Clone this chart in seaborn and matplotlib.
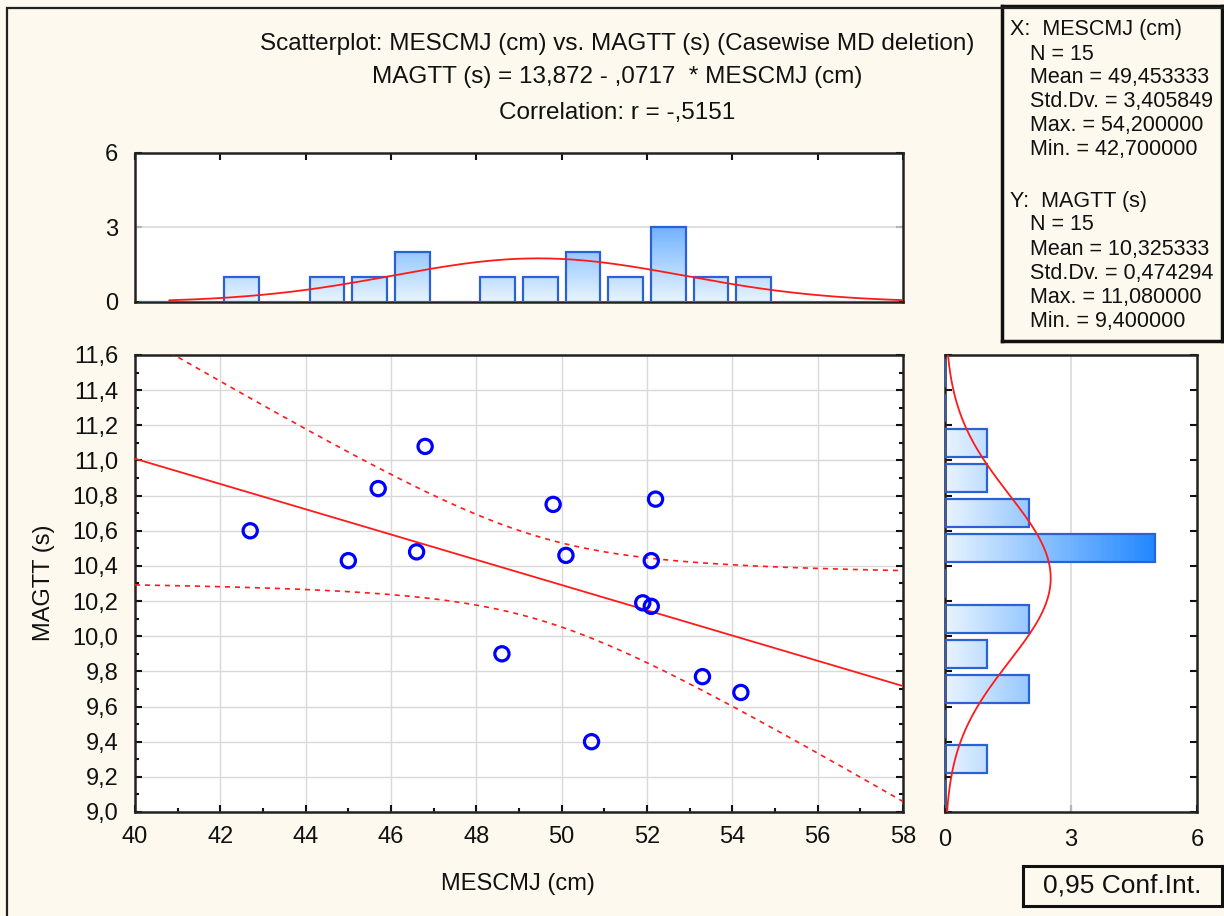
import numpy as np
import matplotlib
matplotlib.use('Agg')
import matplotlib.pyplot as plt
import seaborn as sns
from matplotlib.colors import LinearSegmentedColormap
from matplotlib.patches import Rectangle
from matplotlib.ticker import MultipleLocator, FuncFormatter

# data (15 cases)
mescmj = [42.7, 45.0, 45.7, 46.6, 46.8, 48.6, 49.8, 50.1, 50.7, 51.9, 52.1, 52.1, 52.2, 53.3, 54.2]
magtt = [10.60, 10.43, 10.84, 10.48, 11.08, 9.90, 10.75, 10.46, 9.40, 10.19, 10.17, 10.43, 10.78, 9.77, 9.68]

title_lines = ["Scatterplot: MESCMJ (cm) vs. MAGTT (s) (Casewise MD deletion)",
               "MAGTT (s) = 13,872 - ,0717  * MESCMJ (cm)",
               "Correlation: r = -,5151"]
x_stats = ["X:  MESCMJ (cm)", "N = 15", "Mean = 49,453333", "Std.Dv. = 3,405849",
           "Max. = 54,200000", "Min. = 42,700000"]
y_stats = ["Y:  MAGTT (s)", "N = 15", "Mean = 10,325333", "Std.Dv. = 0,474294",
           "Max. = 11,080000", "Min. = 9,400000"]

x_bins = np.arange(40, 59, 1.0) + 1e-6
y_bins = np.arange(9.0, 11.7, 0.2) + 1e-6

BG = '#fef9ee'
FS = 17
W, H = 1224, 916

sns.set_theme(style='white')
plt.rcParams['font.family'] = ['Liberation Sans', 'DejaVu Sans']
plt.rcParams['axes.edgecolor'] = '#222222'

fig = plt.figure(figsize=(W / 100, H / 100), dpi=100, facecolor=BG)


def box(l, t, r, b):
    return [l / W, 1 - b / H, (r - l) / W, (b - t) / H]


def ftext(px, py, s, **kw):
    fig.text(px / W, 1 - py / H, s, fontsize=kw.pop('fontsize', FS), color='#111111', **kw)


comma = FuncFormatter(lambda v, _: f"{v:.1f}".replace('.', ','))
grad = LinearSegmentedColormap.from_list('g', ['#e8f4ff', '#2288ff'])

ax = fig.add_axes(box(135, 355, 903, 812))
axt = fig.add_axes(box(135, 153, 903, 302))
axr = fig.add_axes(box(945, 355, 1197, 812))

# main scatter
ax.set_xlim(40, 58)
ax.set_ylim(9.0, 11.6)
ax.grid(True, color='#d9d9d9', lw=1)
ax.set_axisbelow(True)

x = np.array(mescmj)
y = np.array(magtt)
n = len(x)
b, a = np.polyfit(x, y, 1)
xs = np.linspace(40, 58, 300)
fit = a + b * xs
res = y - (a + b * x)
s = np.sqrt(np.sum(res ** 2) / (n - 2))
sxx = np.sum((x - x.mean()) ** 2)
half = 2.1604 * s * np.sqrt(1 / n + (xs - x.mean()) ** 2 / sxx)
ax.plot(xs, fit, color='#ff1a1a', lw=1.3, zorder=3)
ax.plot(xs, fit + half, color='#ff1a1a', lw=1.2, ls=(0, (3, 3)), zorder=3)
ax.plot(xs, fit - half, color='#ff1a1a', lw=1.2, ls=(0, (3, 3)), zorder=3)

sns.scatterplot(x=mescmj, y=magtt, ax=ax, marker='o', s=105, color='none',
                edgecolor='#0000ff', linewidth=2.3, zorder=4)

ax.xaxis.set_major_locator(MultipleLocator(2))
ax.xaxis.set_minor_locator(MultipleLocator(1))
ax.yaxis.set_major_locator(MultipleLocator(0.2))
ax.yaxis.set_minor_locator(MultipleLocator(0.1))
ax.yaxis.set_major_formatter(comma)
ax.tick_params(which='both', direction='in', left=True, right=True, bottom=True,
               labelsize=FS, colors='#111111')
ax.tick_params(which='major', length=5, width=1.5, pad=12)
ax.tick_params(which='minor', length=3, width=1.5)
ax.tick_params(axis='x', pad=10)
ax.set_xlabel('')
ax.set_ylabel('')


def shade(axh, horizontal):
    for p in axh.patches:
        x0, y0 = p.get_x(), p.get_y()
        w, h = p.get_width(), p.get_height()
        if horizontal:
            g = np.linspace(0, w, 60).reshape(1, -1)
        else:
            g = np.linspace(0, h, 60).reshape(-1, 1)
        im = axh.imshow(g, extent=(x0, x0 + w, y0, y0 + h), origin='lower', cmap=grad,
                        vmin=0, vmax=5, aspect='auto', zorder=2)
        im.set_clip_path(p)
        p.set_facecolor('none')
        p.set_edgecolor('#2a62d6')
        p.set_linewidth(1.6)
        p.set_zorder(3)


# top histogram
sns.histplot(x=mescmj, bins=x_bins, shrink=0.82, ax=axt, element='bars')
shade(axt, False)
xm, xsd = x.mean(), x.std(ddof=1)
xc = np.linspace(40.8, 58, 200)
axt.plot(xc, n * 1.0 * np.exp(-0.5 * ((xc - xm) / xsd) ** 2) / (xsd * np.sqrt(2 * np.pi)),
         color='#ff1a1a', lw=1.3, zorder=4)
axt.set_xlim(40, 58)
axt.set_ylim(0, 6)
axt.set_yticks([0, 3, 6])
axt.xaxis.set_major_locator(MultipleLocator(2))
axt.axhline(3, color='#d9d9d9', lw=1.2, zorder=1)
axt.tick_params(direction='in', bottom=False, top=True, left=True, right=True,
                labelbottom=False, labelsize=FS, colors='#111111', length=5, width=1.5, pad=12)
axt.set_xlabel('')
axt.set_ylabel('')

# right histogram
sns.histplot(y=magtt, bins=y_bins, shrink=0.8, ax=axr, element='bars')
shade(axr, True)
ym, ysd = y.mean(), y.std(ddof=1)
yc = np.linspace(9.0, 11.6, 200)
axr.plot(n * 0.2 * np.exp(-0.5 * ((yc - ym) / ysd) ** 2) / (ysd * np.sqrt(2 * np.pi)), yc,
         color='#ff1a1a', lw=1.3, zorder=4)
axr.set_ylim(9.0, 11.6)
axr.set_xlim(0, 6)
axr.set_xticks([0, 3, 6])
axr.yaxis.set_major_locator(MultipleLocator(0.2))
axr.axvline(3, color='#d9d9d9', lw=1.2, zorder=1)
axr.tick_params(direction='in', left=True, right=True, bottom=True, labelleft=False,
                labelsize=FS, colors='#111111', length=5, width=1.5, pad=12)
axr.set_xlabel('')
axr.set_ylabel('')

for a_ in (ax, axt, axr):
    a_.set_facecolor('white')
    for sp in a_.spines.values():
        sp.set_linewidth(1.8)
        sp.set_color('#222222')

# titles and axis labels
for txt, py in zip(title_lines, [44, 77, 113]):
    ftext(617, py, txt, ha='center', va='center', fontsize=17.5)
ftext(518, 884, 'MESCMJ (cm)', ha='center', va='center')
ftext(44, 583, 'MAGTT (s)', ha='center', va='center', rotation=90)

# stats box
sb = fig.add_axes(box(1002, 6, 1222, 341))
sb.set_xticks([])
sb.set_yticks([])
sb.set_facecolor(BG)
for sp in sb.spines.values():
    sp.set_linewidth(2.5)
    sp.set_color('#111111')
for i, t in enumerate(x_stats):
    ftext(1010 if i == 0 else 1030, 30 + 24 * i, t, va='center', fontsize=15.5)
for i, t in enumerate(y_stats):
    ftext(1010 if i == 0 else 1030, 201 + 24 * i, t, va='center', fontsize=15.5)

# confidence label box
cb = fig.add_axes(box(1023, 866, 1222, 906))
cb.set_xticks([])
cb.set_yticks([])
cb.set_facecolor(BG)
for sp in cb.spines.values():
    sp.set_linewidth(2.2)
    sp.set_color('#111111')
cb.text(0.5, 0.5, '0,95 Conf.Int.', ha='center', va='center', fontsize=19,
        color='#111111', transform=cb.transAxes)

# outer frame of the picture
fig.patches.append(Rectangle((7 / W, -0.1), 1.2, 1.1 - 8 / H, transform=fig.transFigure,
                             fill=False, lw=1.6, ec='#222222'))

fig.savefig('out.png', dpi=100, facecolor=BG)
